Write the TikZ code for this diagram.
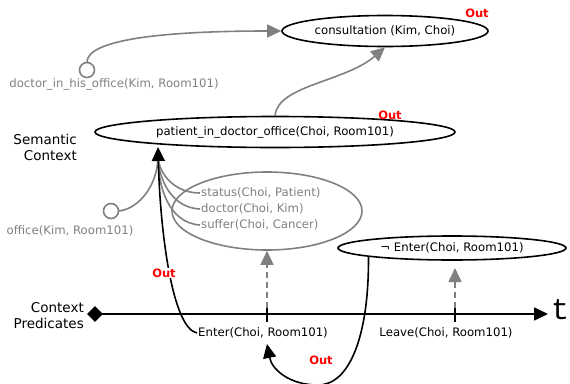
\documentclass[tikz,border=0pt]{standalone}
\usepackage{fontspec}
\setmainfont{DejaVu Sans}
\newfontfamily\monot{Liberation Mono}
\usetikzlibrary{shapes.geometric,arrows.meta}
\definecolor{mygray}{RGB}{128,128,128}
\begin{document}
\begin{tikzpicture}[x=1pt,y=-1pt,
  ell/.style={ellipse,draw=black,line width=1.6pt,inner sep=0pt,font=\fontsize{11.7}{14}\selectfont},
  txt/.style={font=\fontsize{11.7}{14}\selectfont,inner sep=1pt},
  gtxt/.style={txt,text=mygray},
  lbl/.style={font=\fontsize{13.5}{16}\selectfont,align=right,inner sep=0pt},
  outlbl/.style={text=red,font=\bfseries\fontsize{11.5}{13}\selectfont,inner sep=1pt},
  gcirc/.style={circle,draw=mygray,line width=1.6pt,minimum size=15pt,inner sep=0pt},
  garrow/.style={draw=mygray,line width=1.6pt,-{Triangle[length=14pt,width=13pt]}},
  gline/.style={draw=mygray,line width=1.6pt},
  barrow/.style={draw=black,line width=1.6pt,-{Triangle[length=14pt,width=13pt]}},
  gdash/.style={garrow,dash pattern=on 6pt off 4pt}]
\useasboundingbox (0,0) rectangle (570,383);

% semantic nodes
\node[ell,minimum width=206pt,minimum height=31pt] (cons) at (385,31) {consultation (Kim, Choi)};
\node[ell,minimum width=360pt,minimum height=31pt] (pat) at (275,132) {patient\_in\_doctor\_office(Choi, Room101)};
\node[ell,draw=mygray,minimum width=190pt,minimum height=78pt] (grp) at (267,211) {};
\node[ell,minimum width=228pt,minimum height=24pt] (neg) at (452,248) {¬ Enter(Choi, Room101)};

\node[outlbl] (o1) at (477,13) {Out};
\node[outlbl] (o2) at (390,115) {Out};

\node[gtxt] (dio) at (114,84) {doctor\_in\_his\_office(Kim, Room101)};
\node[gcirc] (c1) at (87,70) {};
\node[gtxt] (ok) at (70,231) {office(Kim, Room101)};
\node[gcirc] (c2) at (111,211) {};
\node[gtxt,anchor=west] (st) at (200,193) {status(Choi, Patient)};
\node[gtxt,anchor=west] (dc) at (200,209) {doctor(Choi, Kim)};
\node[gtxt,anchor=west] (sf) at (200,225) {suffer(Choi, Cancer)};

\node[lbl,anchor=east] (sem) at (77,147) {Semantic\\Context};
\node[lbl,anchor=east] (cp) at (84,316) {Context\\Predicates};

% timeline
\node[diamond,fill=black,minimum size=16pt,inner sep=0pt] (dia) at (95,314) {};
\coordinate (tend) at (548,314);
\draw[barrow] (dia.center) -- (tend);
\node[font=\monot\fontsize{30}{32}\selectfont,anchor=base west,inner sep=0pt] (tl) at (551,319) {t};

\coordinate (tk1t) at (267,308);
\coordinate (tk1b) at (267,322);
\coordinate (tk2t) at (455,308);
\coordinate (tk2b) at (455,322);
\coordinate (negin) at (455,268);
\draw[line width=1.6pt] (tk1t) -- (tk1b);
\draw[line width=1.6pt] (tk2t) -- (tk2b);

\node[txt] (ent) at (263,333) {Enter(Choi, Room101)};
\node[txt] (lev) at (446,333) {Leave(Choi, Room101)};

% dashed arrows
\draw[gdash] (tk1t) -- (grp.south);
\draw[gdash] (tk2t) -- (negin);

% gray arrows
\draw[garrow] (c1.north) .. controls (88,40) and (160,31) .. (cons.west);
\draw[garrow] (pat.north) .. controls (278,85) and (345,82) .. (cons.south);

% gray lines to apex
\coordinate (apex) at (158,158);
\coordinate (patin) at (158,147);
\draw[gline] (c2.east) .. controls (140,208) and (157,185) .. (apex);
\draw[gline] (st.west) .. controls (175,193) and (160,175) .. (apex);
\draw[gline] (dc.west) .. controls (172,208) and (159,180) .. (apex);
\draw[gline] (sf.west) .. controls (168,223) and (158,185) .. (apex);

% black arrows
\draw[barrow] (ent.west) .. controls (172,328) and (160,230) .. (patin);
\node[outlbl,fill=white] (o3) at (164,273) {Out};

\coordinate (entb) at (267,344);
\draw[barrow] (neg.186) .. controls (369,335) and (350,385) .. (318,385) .. controls (290,385) and (272,370) .. (entb);
\node[outlbl] (o4) at (321,360) {Out};
\end{tikzpicture}
\end{document}
